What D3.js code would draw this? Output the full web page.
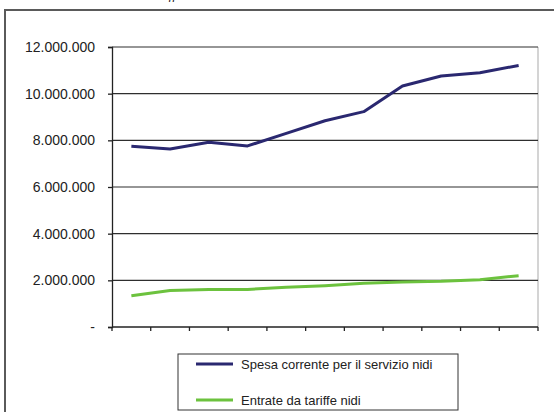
<!DOCTYPE html>
<html>
<head>
<meta charset="utf-8">
<script src="https://cdn.jsdelivr.net/npm/d3@7/dist/d3.min.js"></script>
<style>
  html, body { margin: 0; padding: 0; background: #fff; }
  svg { display: block; }
</style>
</head>
<body>
<svg id="chart" width="554" height="412"></svg>
<script>
// Years of the series (11 periods on the category axis)
const periods = ["1", "2", "3", "4", "5", "6", "7", "8", "9", "10", "11"];

// Spesa corrente per il servizio nidi (euro)
const spesaCorrente = [7750000, 7630000, 7920000, 7760000, 8300000, 8840000, 9230000, 10330000, 10760000, 10900000, 11210000];

// Entrate da tariffe nidi (euro)
const entrateTariffe = [1340000, 1560000, 1610000, 1610000, 1700000, 1770000, 1870000, 1930000, 1960000, 2030000, 2200000];

const yTicks = [0, 2000000, 4000000, 6000000, 8000000, 10000000, 12000000];

const seriesNames = ["Spesa corrente per il servizio nidi", "Entrate da tariffe nidi"];
const seriesColors = ["#2a2870", "#6cc23e"];

const svg = d3.select("#chart");
const margin = { left: 112, right: 16, top: 47, bottom: 85 };
const W = 554, H = 412;
const plotW = W - margin.left - margin.right;
const plotH = H - margin.top - margin.bottom;

// caption above the framed chart (only its lower edge is in view)
svg.append("text")
  .attr("x", 150).attr("y", -1)
  .attr("font-family", "Liberation Serif, serif")
  .attr("font-style", "italic")
  .attr("font-size", 13)
  .attr("fill", "#222")
  .text("tariffe");

// outer frame
svg.append("path")
  .attr("d", `M5,${H + 2} L5,10 L${W + 2},10`)
  .attr("fill", "none")
  .attr("stroke", "#5a5a5a")
  .attr("stroke-width", 2);

const x = d3.scaleBand().domain(periods).range([0, plotW]).padding(0);
const y = d3.scaleLinear().domain([0, 12000000]).range([plotH, 0]);

const g = svg.append("g").attr("transform", `translate(${margin.left},${margin.top})`);

// plot area border (right side)
g.append("line")
  .attr("x1", plotW).attr("x2", plotW)
  .attr("y1", 0).attr("y2", plotH)
  .attr("stroke", "#b8b8b8").attr("stroke-width", 1.2);

// horizontal gridlines
g.selectAll(".grid").data(yTicks.filter(d => d > 0)).enter()
  .append("line")
  .attr("x1", 0).attr("x2", plotW)
  .attr("y1", d => y(d)).attr("y2", d => y(d))
  .attr("stroke", "#2e2e2e").attr("stroke-width", 1.1);

// y axis
const fmt = d => d === 0 ? "-" : d3.format(",")(d).replace(/,/g, ".");
const yAxis = d3.axisLeft(y).tickValues(yTicks).tickFormat(fmt).tickSize(4).tickPadding(13);
const ya = g.append("g").call(yAxis);
ya.select(".domain").attr("stroke", "#222").attr("stroke-width", 1.3);
ya.selectAll(".tick line").attr("stroke", "#222").attr("stroke-width", 1.3);
ya.selectAll(".tick text")
  .attr("font-family", "Liberation Sans, Arial, sans-serif")
  .attr("font-size", 14)
  .attr("fill", "#222");

// x axis with category boundary ticks, no labels
const boundaries = periods.map(p => x(p)).concat([plotW]);
g.append("line")
  .attr("x1", 0).attr("x2", plotW)
  .attr("y1", plotH).attr("y2", plotH)
  .attr("stroke", "#222").attr("stroke-width", 1.3);
g.selectAll(".xtick").data(boundaries).enter()
  .append("line")
  .attr("x1", d => d).attr("x2", d => d)
  .attr("y1", plotH).attr("y2", plotH + 4)
  .attr("stroke", "#222").attr("stroke-width", 1.3);

// series lines
const line = d3.line()
  .x((d, i) => x(periods[i]) + x.bandwidth() / 2)
  .y(d => y(d));

[spesaCorrente, entrateTariffe].forEach((vals, i) => {
  g.append("path")
    .datum(vals)
    .attr("fill", "none")
    .attr("stroke", seriesColors[i])
    .attr("stroke-width", 3)
    .attr("stroke-linejoin", "round")
    .attr("d", line);
});

// legend
const lg = svg.append("g").attr("transform", "translate(178,354)");
lg.append("rect")
  .attr("x", 0).attr("y", 0).attr("width", 280).attr("height", 56)
  .attr("fill", "#fff").attr("stroke", "#333").attr("stroke-width", 1);
seriesNames.forEach((name, i) => {
  const yy = 10 + i * 36;
  lg.append("line")
    .attr("x1", 18).attr("x2", 55)
    .attr("y1", yy).attr("y2", yy)
    .attr("stroke", seriesColors[i]).attr("stroke-width", 3);
  lg.append("text")
    .attr("x", 63).attr("y", yy + 4.5)
    .attr("font-family", "Liberation Sans, Arial, sans-serif")
    .attr("font-size", 13)
    .attr("fill", "#222")
    .text(name);
});
</script>
</body>
</html>
